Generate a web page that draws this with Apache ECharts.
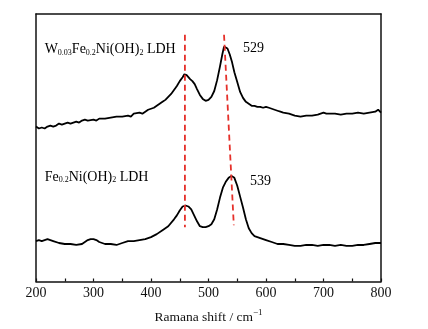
<!DOCTYPE html>
<html>
<head>
<meta charset="utf-8">
<script src="https://cdn.jsdelivr.net/npm/echarts@6/dist/echarts.min.js"></script>
<style>
html, body { margin: 0; padding: 0; background: #fff; }
#chart { width: 428px; height: 329px; }
</style>
</head>
<body>
<div id="chart"></div>
<script>
// 拉曼光谱数据 (强度为任意单位)
var shiftW = [200,205,210,215,220,225,230,235,240,245,250,255,260,270,275,280,285,290,300,305,310,320,330,340,350,360,365,370,380,385,390,395,400,405,410,415,420,425,430,435,440,445,450,455,458,462,465,468,472,476,480,485,490,495,500,505,510,515,520,524,527,530,533,537,541,545,550,555,560,565,570,575,580,585,590,595,600,605,610,615,620,625,630,640,650,660,670,680,690,700,705,710,720,730,740,750,760,770,780,790,795,800];
var intW = [157,155,156,155,157,158,157,158,160,159,160,161,160,162,161,163,164,163,164,163,165,165,166,167,167,168,167,170,171,170,172,174,175,176,178,180,182,184,187,190,194,198,203,207,210,209,210,205,203,200,195,189,185,183,184,187,193,204,218,230,238,239,236,230,222,212,202,192,186,182,180,178,178,177,177,176,177,176,175,174,173,172,171,170,168,167,168,168,169,171,170,170,170,169,170,170,171,170,171,172,174,171];

var shiftFe = [200,205,210,215,220,225,230,240,250,260,270,280,285,290,295,300,305,310,320,330,340,350,360,370,380,390,400,410,420,430,440,445,450,455,460,465,470,475,480,485,490,495,500,505,510,515,520,525,530,535,540,545,550,555,560,565,570,575,580,590,600,610,620,630,640,650,660,670,680,690,700,710,720,730,740,750,760,770,780,790,800];
var intFe = [41,42,41,42,43,42,41,39,38,38,37,38,40,42,43,43,42,40,38,38,37,39,41,41,42,43,45,48,52,56,63,67,72,76,77,76,73,67,61,56,55,55,56,58,63,73,85,95,101,105,107,105,97,86,75,63,54,49,46,44,42,40,38,38,37,36,36,37,37,36,37,37,36,37,36,36,37,37,38,39,39];

// 红色虚线 (峰位)
var dash1 = [[459, 250], [459, 55]];
var dash2 = [[527, 250], [544, 57]];

// 标注
var labels = [
	{ value: [215, 235], text: 'W{sub|0.03}Fe{sub|0.2}Ni(OH){sub|2} LDH' },
	{ value: [560, 236], text: '529' },
	{ value: [215, 106], text: 'Fe{sub|0.2}Ni(OH){sub|2} LDH' },
	{ value: [572, 101], text: '539' }
];

var toPairs = function(xs, ys){
	var out = [];
	for(var i = 0; i < xs.length; i++){
		out.push([xs[i], ys[i]]);
	}
	return out;
};

var font = '"Liberation Serif", "Times New Roman", serif';
var axisColor = '#111';

var myChart = echarts.init(document.getElementById('chart'));
var option = {
	animation: false,
	backgroundColor: '#fff',
	grid: { left: 36, right: 47, top: 14, bottom: 44 },
	xAxis: [
		{
			type: 'value',
			min: 200, max: 800, interval: 100,
			name: 'Ramana shift / cm{sup|\u22121}',
			nameLocation: 'middle',
			nameGap: 27,
			nameTextStyle: {
				fontFamily: font, fontSize: 13.5, color: '#111',
				rich: { sup: { fontFamily: font, fontSize: 9, color: '#111', verticalAlign: 'top', padding: [0, 0, 8, 0] } }
			},
			axisLine: { show: true, lineStyle: { color: axisColor, width: 1.5 } },
			axisTick: { show: true, inside: true, length: 3, lineStyle: { color: axisColor, width: 1.2 } },
			minorTick: { show: true, splitNumber: 2, length: 3, lineStyle: { color: axisColor, width: 1.2 } },
			axisLabel: { fontFamily: font, fontSize: 14, color: '#111', margin: 5 },
			splitLine: { show: false }
		},
		{
			type: 'value', position: 'top', min: 200, max: 800,
			axisLine: { show: true, onZero: false, lineStyle: { color: axisColor, width: 1.5 } },
			axisTick: { show: false }, axisLabel: { show: false }, splitLine: { show: false }
		}
	],
	yAxis: [
		{
			type: 'value', min: 0, max: 271,
			axisLine: { show: true, lineStyle: { color: axisColor, width: 1.5 } },
			axisTick: { show: false }, axisLabel: { show: false }, splitLine: { show: false }
		},
		{
			type: 'value', position: 'right', min: 0, max: 271,
			axisLine: { show: true, onZero: false, lineStyle: { color: axisColor, width: 1.5 } },
			axisTick: { show: false }, axisLabel: { show: false }, splitLine: { show: false }
		}
	],
	series: [
		{
			type: 'line', data: toPairs(shiftW, intW), showSymbol: false, smooth: false,
			lineStyle: { color: '#000', width: 1.8 }, z: 3
		},
		{
			type: 'line', data: toPairs(shiftFe, intFe), showSymbol: false, smooth: false,
			lineStyle: { color: '#000', width: 1.8 }, z: 3
		},
		{
			type: 'line', data: dash1, showSymbol: false,
			lineStyle: { color: '#e5302a', width: 1.8, type: [6, 4] }, z: 4
		},
		{
			type: 'line', data: dash2, showSymbol: false,
			lineStyle: { color: '#e5302a', width: 1.8, type: [6, 4] }, z: 4
		},
		{
			type: 'scatter', symbolSize: 0, silent: true, z: 5,
			data: labels.map(function(l){ return { value: l.value, text: l.text }; }),
			label: {
				show: true, position: 'right', distance: 0,
				fontFamily: font, fontSize: 14, color: '#000', opacity: 1,
				formatter: function(p){ return p.data.text; },
				rich: { sub: { fontFamily: font, fontSize: 8, color: '#000', verticalAlign: 'bottom', padding: [7, 0, 0, 0] } }
			}
		}
	]
};
myChart.setOption(option);
</script>
</body>
</html>
